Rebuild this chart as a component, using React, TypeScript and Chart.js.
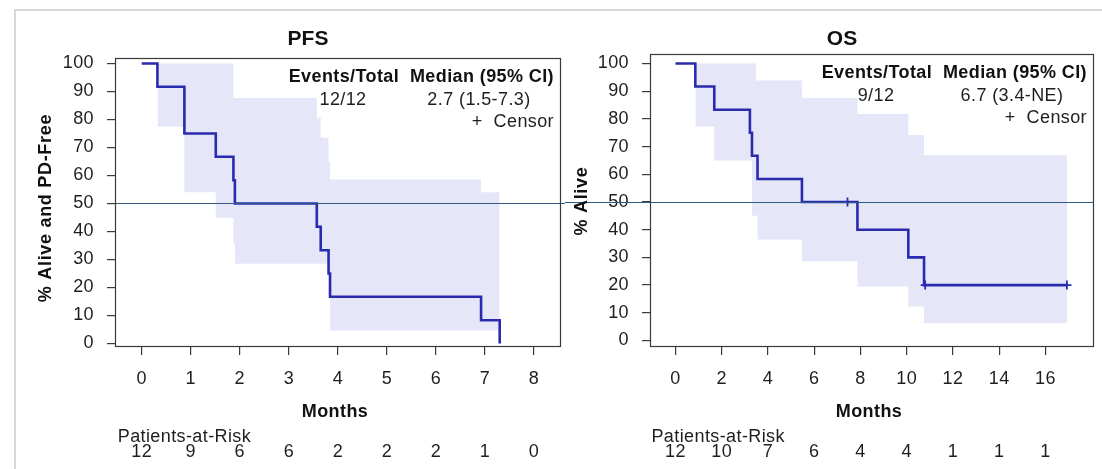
import React, { useEffect, useRef } from "react";
import { Chart, registerables } from "chart.js";

Chart.register(...registerables);

const FONT = '"Liberation Sans", Arial, Helvetica, sans-serif';

// ---------- PFS data ----------
const pfsTimes = [0, 0.32, 0.87, 1.51, 1.87, 1.9, 3.57, 3.65, 3.81, 3.84, 6.92, 7.3];
const pfsSurv = [100, 91.7, 75, 66.7, 58.3, 50, 41.7, 33.3, 25, 16.7, 8.3, 0];
const pfsBandTimes = [0.32, 0.87, 1.51, 1.87, 1.9, 3.57, 3.65, 3.81, 3.84, 6.92, 7.3];
const pfsUpper = [100, 100, 100, 87.7, 87.7, 80.6, 73.5, 65, 58.6, 54.0, 54.0];
const pfsLower = [77.4, 54, 44.9, 36, 28.5, 28.5, 28.5, 28.5, 4.6, 4.6, 4.6];
const pfsCensorTimes: number[] = [];
const pfsCensorSurv: number[] = [];
const pfsTicks = [0, 1, 2, 3, 4, 5, 6, 7, 8];
const pfsAtRisk = [12, 9, 6, 6, 2, 2, 2, 1, 0];
const pfsEvents = "12/12";
const pfsMedian = "2.7 (1.5-7.3)";

// ---------- OS data ----------
const osTimes = [0, 0.86, 1.68, 3.22, 3.31, 3.55, 5.47, 7.87, 10.07, 10.75, 16.93];
const osSurv = [100, 91.7, 83.3, 75, 66.7, 58.3, 50, 40, 30, 20, 20];
const osBandTimes = [0.86, 1.68, 3.22, 3.31, 3.48, 3.55, 5.47, 7.87, 10.07, 10.75, 16.93];
const osUpper = [100, 100, 100, 100, 93.9, 93.9, 87.5, 81.8, 74.2, 66.9, 66.9];
const osLower = [77.2, 65.0, 65.0, 45.0, 45.0, 36.5, 28.6, 19.5, 12.3, 6.2, 6.2];
const osCensorTimes = [7.44, 10.8, 16.93];
const osCensorSurv = [50, 20, 20];
const osTicks = [0, 2, 4, 6, 8, 10, 12, 14, 16];
const osAtRisk = [12, 10, 7, 6, 4, 4, 1, 1, 1];
const osEvents = "9/12";
const osMedian = "6.7 (3.4-NE)";

const yTicks = [0, 10, 20, 30, 40, 50, 60, 70, 80, 90, 100];

const CURVE = "#2a2aae";
const BAND = "#e6e6f9";
const MEDLINE = "#2f5b85";
const AXIS = "#3a3a3a";
const TEXT = "#1e1e1e";
const FS = 18;
const LS = "0.4px";

type Panel = {
  title: string;
  yTitle: string;
  times: number[];
  surv: number[];
  bandTimes: number[];
  upper: number[];
  lower: number[];
  censorTimes: number[];
  censorSurv: number[];
  xTicks: number[];
  atRisk: number[];
  events: string;
  median: string;
  xMin: number;
  xMax: number;
  yMin: number;
  yMax: number;
  left: number;
  width: number;
  areaLeft: number;
  padRight: number;
  padTop: number;
  xAxisHeight: number;
  yTitleX: number;
  yTitleY: number;
  medianToCanvasLeft: boolean;
};

const H = 459;

const pfsPanel: Panel = {
  title: "PFS",
  yTitle: "% Alive and PD-Free",
  times: pfsTimes,
  surv: pfsSurv,
  bandTimes: pfsBandTimes,
  upper: pfsUpper,
  lower: pfsLower,
  censorTimes: pfsCensorTimes,
  censorSurv: pfsCensorSurv,
  xTicks: pfsTicks,
  atRisk: pfsAtRisk,
  events: pfsEvents,
  median: pfsMedian,
  xMin: -0.545,
  xMax: 8.55,
  yMin: -1.25,
  yMax: 101.96,
  left: 15,
  width: 550,
  areaLeft: 100,
  padRight: 4,
  padTop: 48,
  xAxisHeight: 122,
  yTitleX: 31,
  yTitleY: 198,
  medianToCanvasLeft: false,
};

const osPanel: Panel = {
  title: "OS",
  yTitle: "% Alive",
  times: osTimes,
  surv: osSurv,
  bandTimes: osBandTimes,
  upper: osUpper,
  lower: osLower,
  censorTimes: osCensorTimes,
  censorSurv: osCensorSurv,
  xTicks: osTicks,
  atRisk: osAtRisk,
  events: osEvents,
  median: osMedian,
  xMin: -1.1,
  xMax: 18.1,
  yMin: -2.35,
  yMax: 103.43,
  left: 565,
  width: 537,
  areaLeft: 85,
  padRight: 8,
  padTop: 44,
  xAxisHeight: 122,
  yTitleX: 17.5,
  yTitleY: 191,
  medianToCanvasLeft: true,
};

const setLS = (ctx: any, v: string) => {
  try {
    ctx.letterSpacing = v;
  } catch (e) {}
};

const kmPlugin = {
  id: "kmDecor",
  beforeDraw(chart: any) {
    setLS(chart.ctx, LS);
  },
  afterDatasetsDraw(chart: any) {
    const p: Panel = chart.options.plugins.kmDecor.panel;
    const { ctx, chartArea: a, scales } = chart;
    ctx.save();
    // median reference line
    const y50 = Math.round(scales.y.getPixelForValue(50)) + 0.5;
    ctx.strokeStyle = MEDLINE;
    ctx.lineWidth = 1;
    ctx.beginPath();
    ctx.moveTo(p.medianToCanvasLeft ? 0 : a.left, y50);
    ctx.lineTo(p.medianToCanvasLeft ? a.right : chart.width, y50);
    ctx.stroke();
    // frame
    ctx.strokeStyle = AXIS;
    ctx.lineWidth = 1.2;
    ctx.strokeRect(a.left + 0.5, a.top + 0.5, a.right - a.left - 1, a.bottom - a.top - 1);
    ctx.restore();
  },
  afterDraw(chart: any) {
    const p: Panel = chart.options.plugins.kmDecor.panel;
    const { ctx, chartArea: a, scales } = chart;
    const cx = (a.left + a.right) / 2;
    ctx.save();
    ctx.fillStyle = "#111";
    ctx.textBaseline = "middle";

    // title
    setLS(ctx, "0px");
    ctx.font = `bold 21px ${FONT}`;
    ctx.textAlign = "center";
    ctx.fillText(p.title, cx - 30, 29);

    setLS(ctx, LS);
    // legend block
    const r = a.right - 7;
    ctx.font = `bold ${FS}px ${FONT}`;
    ctx.textAlign = "right";
    ctx.fillText("Events/Total  Median (95% CI)", r, a.top + 19);
    ctx.font = `${FS}px ${FONT}`;
    ctx.fillStyle = TEXT;
    ctx.textAlign = "center";
    ctx.fillText(p.events, a.right - 218, a.top + 42);
    ctx.fillText(p.median, a.right - 82, a.top + 42);
    ctx.textAlign = "right";
    ctx.fillText("+  Censor", r, a.top + 64);

    // x axis title
    ctx.fillStyle = "#111";
    ctx.font = `bold ${FS}px ${FONT}`;
    ctx.textAlign = "center";
    ctx.fillText("Months", cx - 3, 402);

    // y axis title
    ctx.save();
    setLS(ctx, "0.7px");
    ctx.translate(p.yTitleX, p.yTitleY);
    ctx.rotate(-Math.PI / 2);
    ctx.textAlign = "center";
    ctx.fillText(p.yTitle, 0, 0);
    ctx.restore();

    // patients at risk
    setLS(ctx, LS);
    ctx.fillStyle = TEXT;
    ctx.font = `${FS}px ${FONT}`;
    ctx.textAlign = "left";
    ctx.fillText("Patients-at-Risk", scales.x.getPixelForValue(p.xTicks[0]) - 24, 427);
    ctx.textAlign = "center";
    p.xTicks.forEach((t, i) => {
      ctx.fillText(String(p.atRisk[i]), scales.x.getPixelForValue(t), 442);
    });
    ctx.restore();
  },
};

function KMPanel({ p }: { p: Panel }) {
  const ref = useRef<HTMLCanvasElement>(null);
  useEffect(() => {
    if (!ref.current) return;
    const curve = p.times.map((t, i) => ({ x: t, y: p.surv[i] }));
    const up = p.bandTimes.map((t, i) => ({ x: t, y: p.upper[i] }));
    const lo = p.bandTimes.map((t, i) => ({ x: t, y: p.lower[i] }));
    const cens = p.censorTimes.map((t, i) => ({ x: t, y: p.censorSurv[i] }));
    const chart = new Chart(ref.current, {
      type: "line",
      data: {
        datasets: [
          {
            label: "lower",
            data: lo,
            stepped: "before",
            borderWidth: 0,
            borderColor: "rgba(0,0,0,0)",
            pointRadius: 0,
            fill: false,
            order: 4,
          },
          {
            label: "upper",
            data: up,
            stepped: "before",
            borderWidth: 0,
            borderColor: "rgba(0,0,0,0)",
            backgroundColor: BAND,
            pointRadius: 0,
            fill: 0,
            order: 3,
          },
          {
            label: "KM",
            data: curve,
            stepped: "before",
            borderColor: CURVE,
            borderWidth: 2.6,
            pointRadius: 0,
            fill: false,
            order: 2,
          },
          {
            label: "Censor",
            data: cens,
            showLine: false,
            pointStyle: "cross",
            pointRadius: 4.5,
            pointBorderColor: CURVE,
            pointBorderWidth: 1.8,
            borderColor: CURVE,
            fill: false,
            order: 1,
          },
        ],
      } as any,
      options: {
        animation: false,
        responsive: false,
        devicePixelRatio: 1,
        events: [],
        layout: { padding: { left: 0, right: p.padRight, top: p.padTop, bottom: 0 } },
        plugins: {
          legend: { display: false },
          tooltip: { enabled: false },
          title: { display: false },
          kmDecor: { panel: p },
        } as any,
        scales: {
          x: {
            type: "linear",
            min: p.xMin,
            max: p.xMax,
            afterBuildTicks: (s: any) => {
              s.ticks = p.xTicks.map((v) => ({ value: v }));
            },
            afterFit: (s: any) => {
              s.height = p.xAxisHeight;
              s.paddingLeft = 0;
              s.paddingRight = 0;
            },
            border: { display: false },
            grid: {
              display: true,
              drawOnChartArea: false,
              drawTicks: true,
              tickLength: 8,
              color: AXIS,
              lineWidth: 1.2,
            },
            ticks: {
              autoSkip: false,
              maxRotation: 0,
              padding: 13,
              color: TEXT,
              font: { family: FONT, size: FS },
              callback: (v: any) => String(v),
            },
          },
          y: {
            type: "linear",
            min: p.yMin,
            max: p.yMax,
            afterBuildTicks: (s: any) => {
              s.ticks = yTicks.map((v) => ({ value: v }));
            },
            afterFit: (s: any) => {
              s.width = p.areaLeft;
              s.paddingTop = 0;
              s.paddingBottom = 0;
            },
            border: { display: false },
            grid: {
              display: true,
              drawOnChartArea: false,
              drawTicks: true,
              tickLength: 8,
              color: AXIS,
              lineWidth: 1.2,
            },
            ticks: {
              autoSkip: false,
              padding: 13,
              color: TEXT,
              font: { family: FONT, size: FS },
              callback: (v: any) => String(v),
            },
          },
        },
      } as any,
      plugins: [kmPlugin as any],
    });
    return () => chart.destroy();
  }, [p]);
  return (
    <canvas
      ref={ref}
      width={p.width}
      height={H}
      style={{ position: "absolute", left: p.left, top: 10, width: p.width, height: H }}
    />
  );
}

export default function App() {
  return (
    <div
      style={{
        position: "fixed",
        left: 0,
        top: 0,
        width: 1102,
        height: 469,
        overflow: "hidden",
        background: "#fff",
      }}
    >
      <div
        style={{
          position: "absolute",
          left: 14,
          top: 9,
          width: 1200,
          height: 600,
          border: "2px solid #d8d8d8",
        }}
      />
      <KMPanel p={pfsPanel} />
      <KMPanel p={osPanel} />
    </div>
  );
}
